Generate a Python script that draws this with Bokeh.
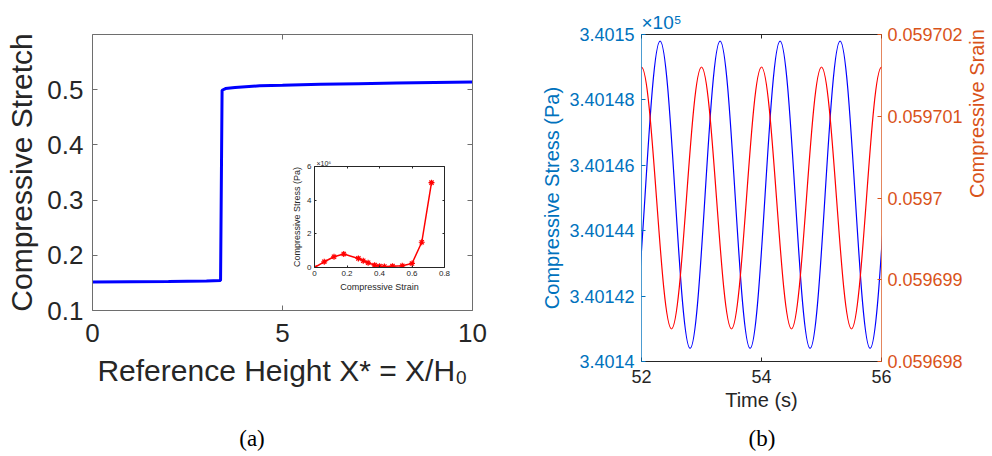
import math

from bokeh.plotting import figure
from bokeh.layouts import row, column
from bokeh.models import Range1d, LinearAxis, FixedTicker, Title, Div, CustomJSTickFormatter
from bokeh.embed import file_html
from bokeh.resources import INLINE

# ---------------- data ----------------
# (a) compressive stretch along the reference height
height_x = [0.0, 1.0, 2.0, 3.0, 3.37, 3.41, 3.5, 3.75, 4.4, 5.0, 6.0, 7.0, 8.0, 9.0, 10.0]
stretch = [0.1515, 0.152, 0.1525, 0.1535, 0.1545, 0.499, 0.502, 0.504, 0.507,
           0.508, 0.510, 0.511, 0.512, 0.513, 0.514]
a_xticks = [0, 5, 10]
a_yticks = [0.1, 0.2, 0.3, 0.4, 0.5]

# inset: stress-strain response (stress in units of 1e6 Pa)
strain_pts = [0.0, 0.06, 0.12, 0.18, 0.27, 0.30, 0.33, 0.37, 0.40, 0.43, 0.48, 0.54, 0.60, 0.66, 0.72]
stress_pts = [0.0, 0.34, 0.64, 0.80, 0.54, 0.40, 0.28, 0.14, 0.08, 0.06, 0.08, 0.10, 0.24, 1.50, 5.04]
inset_xticks = [0, 0.2, 0.4, 0.6, 0.8]
inset_yticks = [0, 2, 4, 6]

# (b) oscillation extrema: stress in units of 1e5 Pa, strain dimensionless
stress_t = [51.81, 52.31, 52.81, 53.31, 53.81, 54.31, 54.81, 55.31, 55.81, 56.31]
stress_v = [3.401404, 3.401498, 3.401404, 3.401498, 3.401404,
            3.401498, 3.401404, 3.401498, 3.401404, 3.401498]
strain_t = [51.5, 52.0, 52.5, 53.0, 53.5, 54.0, 54.5, 55.0, 55.5, 56.0, 56.5]
strain_v = [0.0596984, 0.0597016, 0.0596984, 0.0597016, 0.0596984, 0.0597016,
            0.0596984, 0.0597016, 0.0596984, 0.0597016, 0.0596984]
b_xticks = [52, 54, 56]
stress_ticks = [3.4014, 3.40142, 3.40144, 3.40146, 3.40148, 3.4015]
stress_tick_labels = ["3.4014", "3.40142", "3.40144", "3.40146", "3.40148", "3.4015"]
strain_ticks = [0.059698, 0.059699, 0.0597, 0.059701, 0.059702]
strain_tick_labels = ["0.059698", "0.059699", "0.0597", "0.059701", "0.059702"]

# ---------------- styling ----------------
FONT = "Liberation Sans"
SERIF = "Liberation Serif"
DARK = "#262626"
AXGRAY = "#6e6e6e"
BLUE_AX = "#0072BD"
ORANGE_AX = "#D95319"


def style_axis(ax, line_color, text_color, tick_size, label_size, tick_len,
               label_standoff, axis_standoff):
    ax.axis_line_color = line_color
    ax.major_tick_line_color = line_color
    ax.minor_tick_line_color = None
    ax.major_tick_in = tick_len
    ax.major_tick_out = 0
    ax.major_label_text_font = FONT
    ax.major_label_text_font_size = tick_size
    ax.major_label_text_color = text_color
    ax.major_label_standoff = label_standoff
    ax.axis_label_text_font = FONT
    ax.axis_label_text_font_size = label_size
    ax.axis_label_text_font_style = "normal"
    ax.axis_label_text_color = text_color
    ax.axis_label_standoff = axis_standoff


def box_axis(ticks, line_color, tick_len, **kw):
    ax = LinearAxis(ticker=FixedTicker(ticks=ticks),
                    formatter=CustomJSTickFormatter(code="return ''"), **kw)
    ax.axis_line_color = line_color
    ax.major_tick_line_color = line_color
    ax.minor_tick_line_color = None
    ax.major_tick_in = tick_len
    ax.major_tick_out = 0
    ax.major_label_standoff = 0
    ax.major_label_text_font_size = "1px"
    return ax


def half_waves(t, v, k=0.36):
    """Cubic segments between successive extrema with flat tangents."""
    x0, x1 = t[:-1], t[1:]
    y0, y1 = v[:-1], v[1:]
    cx0 = [a + k * (b - a) for a, b in zip(x0, x1)]
    cx1 = [b - k * (b - a) for a, b in zip(x0, x1)]
    return dict(x0=x0, y0=y0, x1=x1, y1=y1, cx0=cx0, cy0=y0, cx1=cx1, cy1=y1)


def caption(text, width, left):
    return Div(text=text, width=width, height=36, margin=(0, 0, 0, left),
               styles={"font-family": SERIF, "font-size": "23px", "line-height": "36px",
                       "text-align": "center", "color": "black"})


# ---------------- (a) ----------------
pa = figure(x_range=Range1d(0, 10), y_range=Range1d(0.1, 0.6),
            frame_width=380, frame_height=276,
            min_border_left=92, min_border_right=28, min_border_top=34, min_border_bottom=110,
            output_backend="svg", toolbar_location=None)
pa.outline_line_color = None
pa.grid.visible = False
pa.background_fill_color = "white"
pa.border_fill_color = "white"
pa.line(height_x, stretch, line_color="#0000FF", line_width=3)

pa.xaxis.ticker = FixedTicker(ticks=a_xticks)
pa.yaxis.ticker = FixedTicker(ticks=a_yticks)
pa.xaxis.axis_label = "Reference Height X* = X/H\u2080"
pa.yaxis.axis_label = "Compressive Stretch"
style_axis(pa.xaxis[0], AXGRAY, DARK, "26px", "30px", 5, 13, 9)
style_axis(pa.yaxis[0], AXGRAY, DARK, "26px", "30px", 5, 9, 6)
pa.add_layout(box_axis(a_xticks, AXGRAY, 5), "above")
pa.add_layout(box_axis(a_yticks, AXGRAY, 5), "right")

# ---------------- inset ----------------
inset = figure(x_range=Range1d(0, 0.8), y_range=Range1d(0, 6),
               frame_width=130, frame_height=101,
               min_border_left=36, min_border_right=8, min_border_top=15, min_border_bottom=30,
               output_backend="svg", toolbar_location=None,
               margin=(-306, 0, 160, 278))
inset.outline_line_color = None
inset.grid.visible = False
inset.background_fill_color = "white"
inset.border_fill_color = None
inset.line(strain_pts, stress_pts, line_color="#FF0000", line_width=1.5)
inset.scatter(strain_pts, stress_pts, marker="asterisk", size=6,
              line_color="#FF0000", line_width=1.2)
inset.xaxis.ticker = FixedTicker(ticks=inset_xticks)
inset.yaxis.ticker = FixedTicker(ticks=inset_yticks)
inset.xaxis.axis_label = "Compressive Strain"
inset.yaxis.axis_label = "Compressive Stress (Pa)"
style_axis(inset.xaxis[0], DARK, DARK, "8px", "9px", 2, 3, 3)
style_axis(inset.yaxis[0], DARK, DARK, "8px", "9px", 2, 3, 2)
inset.add_layout(box_axis(inset_xticks, DARK, 2), "above")
inset.add_layout(box_axis(inset_yticks, DARK, 2), "right")
inset.add_layout(Title(text="\u00d710\u2076", align="left", offset=2, standoff=0,
                       text_font=FONT, text_font_size="7px", text_color=DARK,
                       text_font_style="normal"), "above")

# ---------------- (b) ----------------
pb = figure(x_range=Range1d(52, 56), y_range=Range1d(3.4014, 3.4015),
            frame_width=240, frame_height=327,
            min_border_left=141, min_border_right=111, min_border_top=25, min_border_bottom=68,
            output_backend="svg", toolbar_location=None)
pb.outline_line_color = None
pb.grid.visible = False
pb.background_fill_color = "white"
pb.border_fill_color = "white"
pb.extra_y_ranges = {"strain": Range1d(0.059698, 0.059702)}

pb.bezier(line_color="#0000FF", line_width=1.2, **half_waves(stress_t, stress_v))
pb.bezier(line_color="#FF0000", line_width=1.2, y_range_name="strain",
          **half_waves(strain_t, strain_v))

pb.xaxis.ticker = FixedTicker(ticks=b_xticks)
pb.xaxis.axis_label = "Time (s)"
style_axis(pb.xaxis[0], DARK, DARK, "18px", "20px", 4, 8, 3)

pb.yaxis.ticker = FixedTicker(ticks=stress_ticks)
pb.yaxis.major_label_overrides = dict(zip(stress_ticks, stress_tick_labels))
pb.yaxis.axis_label = "Compressive Stress (Pa)"
style_axis(pb.yaxis[0], BLUE_AX, BLUE_AX, "18px", "20px", 4, 7, 3)

right_ax = LinearAxis(y_range_name="strain", ticker=FixedTicker(ticks=strain_ticks),
                      axis_label="Compressive Srain")
right_ax.major_label_overrides = dict(zip(strain_ticks, strain_tick_labels))
style_axis(right_ax, ORANGE_AX, ORANGE_AX, "18px", "20px", 4, 6, 11)
right_ax.axis_line_alpha = 0.7
if "axis_label_orientation" in right_ax.properties():
    right_ax.axis_label_orientation = math.pi / 2
pb.add_layout(right_ax, "right")
pb.yaxis[0].axis_line_alpha = 0.7
pb.add_layout(box_axis(b_xticks, DARK, 4), "above")
pb.add_layout(Title(text="\u00d710\u2075", align="left", offset=0, standoff=3,
                    text_font=FONT, text_font_size="19px", text_color=BLUE_AX,
                    text_font_style="normal"), "above")

# panel captions
captions = row(caption("(a)", 496, 4), caption("(b)", 460, 32))

root = column(row(pa, pb), captions, inset)
open("out.html", "w").write(file_html(root, INLINE))
